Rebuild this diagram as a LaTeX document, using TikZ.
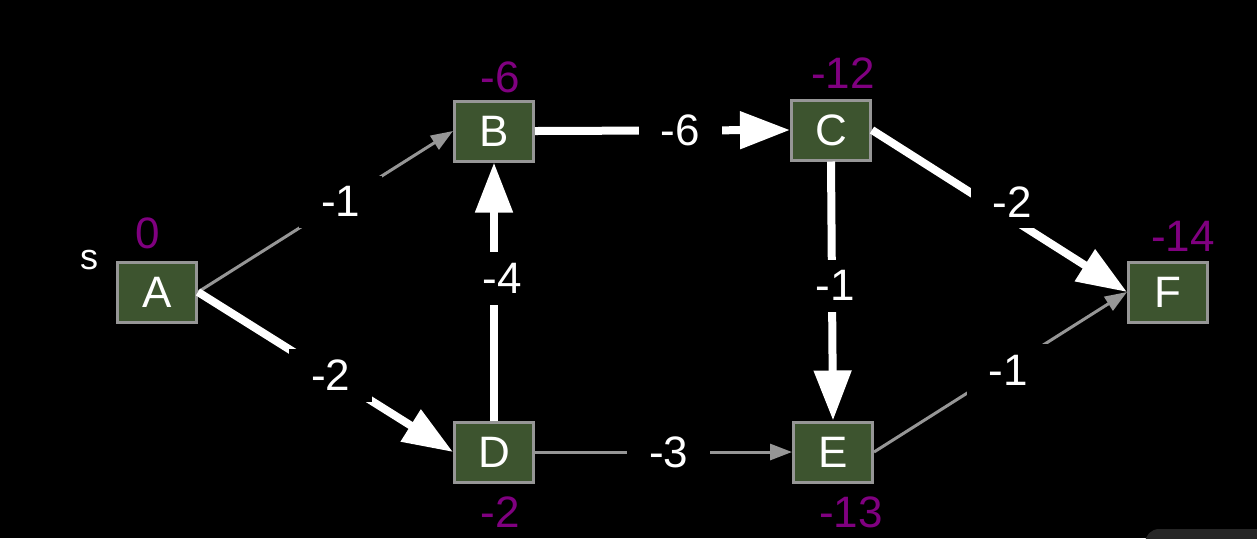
\documentclass[tikz,border=0pt]{standalone}
\usepackage{fontspec}
\setsansfont{Liberation Sans}
\usepackage{tikz}
\usetikzlibrary{arrows.meta, positioning}
\definecolor{boxgreen}{RGB}{61,84,47}
\definecolor{boxgray}{RGB}{150,150,150}
\definecolor{edgegray}{RGB}{150,150,150}
\definecolor{distpurple}{RGB}{128,0,128}
\definecolor{uigray}{RGB}{38,38,38}

\begin{document}
\begin{tikzpicture}[
  x=0.5pt, y=-0.5pt,
  vbox/.style  = {rectangle, draw=boxgray, fill=boxgreen, line width=1.5pt,
                  minimum width=39.5pt, minimum height=30pt, inner sep=0pt,
                  text=white, font=\fontsize{22}{24}\sffamily},
  heavy/.style = {-{Triangle[length=25pt, width=18pt]}, line width=4pt, white},
  light/.style = {-{Triangle[length=11pt, width=8pt]}, line width=1.5pt, edgegray},
  wt/.style    = {fill=black, text=white, inner xsep=11pt, inner ysep=5.5pt,
                  font=\fontsize{22}{24}\sffamily},
  dist/.style  = {text=distpurple, inner sep=0pt, font=\fontsize{22}{24}\sffamily},
]

% ── Background ────────────────────────────────────────────────────────────────
\fill[black] (0,0) rectangle (1257,538);
\useasboundingbox (0,0) rectangle (1257,538);
\begin{scope}
  \clip (0,0) rectangle (1257,538);
  \fill[uigray, rounded corners=7pt] (1145,529) rectangle (1290,570);
\end{scope}

% ── Vertices ──────────────────────────────────────────────────────────────────
\node[vbox] (A) at (157,292) {A};
\node[vbox] (B) at (494,131) {B};
\node[vbox] (C) at (831,130) {C};
\node[vbox] (D) at (494,452) {D};
\node[vbox] (E) at (833,452) {E};
\node[vbox] (F) at (1168,292) {F};

\node[text=white, font=\fontsize{18}{20}\sffamily, inner sep=0pt]
  (src) at ([shift={(-68,-32)}]A) {s};

% ── Distances ─────────────────────────────────────────────────────────────────
\node[dist] (dA) at ([shift={(-9,-59)}]A) {0};
\node[dist] (dB) at ([shift={(6,-54)}]B)  {-6};
\node[dist] (dC) at ([shift={(12,-57)}]C) {-12};
\node[dist] (dD) at ([shift={(6,60)}]D)   {-2};
\node[dist] (dE) at ([shift={(18,60)}]E)  {-13};
\node[dist] (dF) at ([shift={(15,-56)}]F) {-14};

% ── Edges: not relaxed on the path ────────────────────────────────────────────
\draw[light] (A.east) -- node[wt, pos=0.56] {-1} (B.west);
\draw[light] (D.east) -- node[wt, pos=0.52] {-3} (E.west);
\draw[light] (E.east) -- node[wt, pos=0.53, yshift=-1.5pt] {-1} (F.west);

% ── Edges: shortest-path tree ─────────────────────────────────────────────────
\draw[heavy] (A.east)  -- node[wt, pos=0.52] {-2} (D.west);
\draw[heavy] (D.north) -- node[wt, pos=0.55, xshift=4pt] {-4} (B.south);
\draw[heavy] (B.east)  -- node[wt, pos=0.57] {-6} (C.west);
\draw[heavy] (C.south) -- node[wt, pos=0.48, xshift=1.5pt] {-1} (E.north);
\draw[heavy] (C.east)  -- node[wt, pos=0.55, yshift=8.5pt] {-2} (F.west);

\end{tikzpicture}
\end{document}
